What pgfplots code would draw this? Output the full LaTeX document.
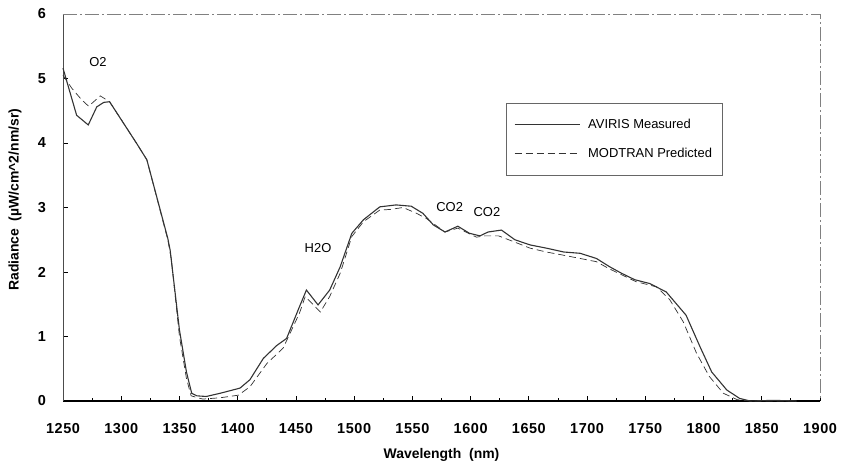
\documentclass[border=0pt]{standalone}
\usepackage{pgfplots}
\pgfplotsset{compat=1.18}
\usepackage{fontspec}
\setmainfont{Liberation Sans}
\newfontfamily\tickfont[LetterSpace=4]{Liberation Sans}

\begin{document}
\begin{tikzpicture}
\begin{axis}[
    width=757bp, height=387bp, scale only axis,
    xmin=1250, xmax=1900, ymin=0, ymax=6,
    axis x line*=bottom, axis y line*=left,
    x axis line style={line width=1.3bp, -},
    y axis line style={black!70, line width=0.6bp, -},
    xtick distance=50, minor x tick num=1, ytick distance=1,
    tick align=inside, major tick length=5bp, minor tick length=3bp,
    tick style={black, line width=0.8bp},
    /pgf/number format/assume math mode=true,
    /pgf/number format/1000 sep={},
    ticklabel style={font=\tickfont\bfseries\fontsize{14.5}{16}\selectfont},
    xticklabel style={anchor=center, yshift=-28bp},
    yticklabel style={anchor=center, xshift=-21bp},
    xlabel={\bfseries\fontsize{14}{16}\selectfont Wavelength\ \ (nm)},
    ylabel={\bfseries\fontsize{14}{16}\selectfont Radiance\ \ (\textmu W/cm\^{}2/nm/sr)},
    xlabel style={at={(rel axis cs:0.5,0)}, anchor=center, yshift=-54bp},
    ylabel style={at={(rel axis cs:0,0.52)}, anchor=center, yshift=48bp},
    legend style={at={(rel axis cs:0.585,0.77)}, anchor=north west,
        draw=black!60, line width=0.5bp,
        font=\fontsize{13}{15}\selectfont,
        inner xsep=8bp, inner ysep=14bp, row sep=14bp, column sep=6bp},
    legend cell align=left,
    legend image code/.code={\draw[#1] (0bp,0bp) -- (65bp,0bp);},
    clip=false,
]
\addplot[black!80, line width=1.1bp] coordinates {
(1250,5.16)(1261.7,4.43)(1271.7,4.28)(1279,4.56)(1285,4.63)(1290,4.64)
(1313,4.00)(1322,3.74)(1340,2.52)(1342,2.34)(1350,1.10)(1356,0.45)
(1360.5,0.12)(1365,0.08)(1373,0.07)(1385,0.12)(1402,0.20)(1410.5,0.33)
(1422,0.66)(1433.5,0.86)(1442,0.97)(1453,1.46)(1459,1.72)(1469,1.49)
(1479,1.72)(1488,2.08)(1498,2.60)(1508,2.81)(1522,3.01)(1536,3.04)
(1549,3.02)(1559,2.91)(1568,2.73)(1578,2.62)(1589,2.71)(1599,2.60)
(1608,2.56)(1615,2.62)(1626.5,2.65)(1638,2.50)(1651,2.42)(1665,2.37)
(1680,2.31)(1694,2.29)(1708,2.21)(1719.5,2.08)(1729.6,1.98)(1741,1.88)
(1754,1.82)(1768,1.69)(1785,1.33)(1797,0.84)(1807,0.45)(1820,0.17)
(1831,0.04)(1840,0.0)(1860,0.01)(1880,0.0)
};
\addlegendentry{AVIRIS Measured}
\addplot[black!80, line width=0.7bp, dash pattern=on 7bp off 4bp] coordinates {
(1250,5.05)(1257.5,4.85)(1266,4.67)(1272,4.57)(1282,4.73)(1290,4.64)
(1313,4.00)(1322,3.74)(1340,2.50)(1343,2.20)(1350,1.00)(1356,0.35)
(1360,0.08)(1370,0.03)(1385,0.05)(1400.5,0.09)(1410.5,0.22)(1425,0.58)
(1439,0.82)(1453,1.36)(1458,1.62)(1471,1.38)(1479,1.62)(1488,1.98)
(1498,2.55)(1508,2.78)(1522,2.96)(1531,2.97)(1542,3.00)(1553.5,2.91)
(1562,2.83)(1578,2.62)(1589,2.68)(1605,2.54)(1612,2.56)(1624,2.56)
(1637,2.47)(1651,2.37)(1665,2.31)(1677,2.27)(1694,2.21)(1708,2.16)
(1719,2.05)(1742,1.85)(1759.6,1.77)(1771,1.57)(1782.5,1.23)(1794,0.74)
(1805,0.38)(1817,0.12)(1829,0.02)(1840,0.0)(1880,0.0)
};
\addlegendentry{MODTRAN Predicted}
\draw[black!50, line width=0.6bp, dash pattern=on 14bp off 3bp on 2bp off 3bp]
    (rel axis cs:0,1) -- (rel axis cs:1,1) -- (rel axis cs:1,0);
\node[font=\fontsize{13}{15}\selectfont] at (axis cs:1280,5.26) {O2};
\node[font=\fontsize{13}{15}\selectfont] at (axis cs:1469,2.37) {H2O};
\node[font=\fontsize{13}{15}\selectfont] at (axis cs:1582,3.0) {CO2};
\node[font=\fontsize{13}{15}\selectfont] at (axis cs:1614,2.93) {CO2};
\coordinate (ll) at (rel axis cs:0,0);
\coordinate (ur) at (rel axis cs:1,1);
\end{axis}
\pgfresetboundingbox
\path ([shift={(-63bp,-67bp)}]ll) rectangle ([shift={(23bp,14bp)}]ur);
\end{tikzpicture}
\end{document}
